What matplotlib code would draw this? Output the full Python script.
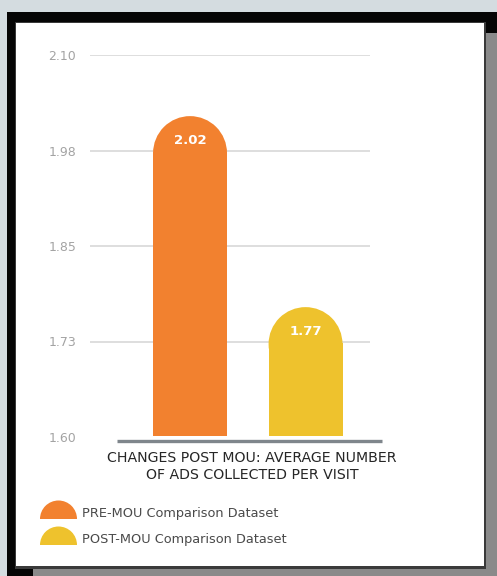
import matplotlib
matplotlib.use("Agg")
import matplotlib.pyplot as plt
import matplotlib.patches as mpatches
import matplotlib.transforms as mtransforms
import numpy as np

# ---- data ----
categories = ["PRE-MOU Comparison Dataset", "POST-MOU Comparison Dataset"]
values = [2.02, 1.77]
value_labels = ["2.02", "1.77"]
colors = ["#F2812F", "#EEC22D"]
tick_values = [1.60, 1.725, 1.85, 1.975, 2.10]
tick_labels = ["1.60", "1.73", "1.85", "1.98", "2.10"]
title_lines = ["CHANGES POST MOU: AVERAGE NUMBER", "OF ADS COLLECTED PER VISIT"]

W, H = 497, 576
fig = plt.figure(figsize=(W / 100, H / 100), dpi=100)
fig.patch.set_facecolor("#D4DCE0")

# background / frame axes in pixel units
bg = fig.add_axes([0, 0, 1, 1], zorder=0)
bg.set_xlim(0, W)
bg.set_ylim(H, 0)
bg.axis("off")
bg.add_patch(mpatches.Rectangle((7, 12), W - 7, H - 12, facecolor="#050505", edgecolor="none"))
bg.add_patch(mpatches.Rectangle((33, 33), W - 33, H - 33, facecolor="#8A8A8A", edgecolor="none"))
bg.add_patch(mpatches.Rectangle((14.5, 21.5), 471, 547, facecolor="#3A3A3A", edgecolor="none"))
bg.add_patch(mpatches.Rectangle((16, 23), 467.5, 543, facecolor="white", edgecolor="none"))

# title
for i, line in enumerate(title_lines):
    bg.text(252, 458 + 17 * i, line, ha="center", va="center", fontsize=10.2,
            color="#262626", family="DejaVu Sans")

# legend
leg_y = [519, 545]
for i, (cat, col) in enumerate(zip(categories, colors)):
    bg.add_patch(mpatches.Wedge((58.5, leg_y[i]), 18.5, 180, 360, facecolor=col, edgecolor="none"))
    bg.text(82, leg_y[i] - 5, cat, ha="left", va="center", fontsize=9.3,
            color="#4A4A4A", family="DejaVu Sans")

# chart axes
y0, y1 = 1.60, 2.10
left_px, right_px = 90, 370
bottom_px, top_px = 437, 55
ax = fig.add_axes([left_px / W, (H - bottom_px) / H, (right_px - left_px) / W,
                   (bottom_px - top_px) / H], zorder=1)
ax.patch.set_alpha(0)
ax.set_ylim(y0, y1)
xpos = np.arange(len(values))
ax.set_xlim(-0.866, 1.558)
for s in ax.spines.values():
    s.set_visible(False)
ax.set_xticks([])
ax.set_yticks(tick_values)
ax.set_yticklabels(tick_labels)
ax.tick_params(axis="y", length=0, pad=10, labelsize=9, labelcolor="#A3A3A3")
for t in tick_values[1:]:
    ax.axhline(t, color="#D8D8D8", lw=1.2, zorder=0)

bar_w = 0.64
fig.canvas.draw()
# convert bar width (data) to pixels, then to data-y radius
px_per_x = ax.transData.transform((1, 0))[0] - ax.transData.transform((0, 0))[0]
px_per_y = ax.transData.transform((0, 1))[1] - ax.transData.transform((0, 0))[1]
r_px = bar_w * px_per_x / 2
r_y = r_px / px_per_y
for x, v, col, lab in zip(xpos, values, colors, value_labels):
    ax.add_patch(mpatches.Rectangle((x - bar_w / 2, y0 + 1.5 / px_per_y), bar_w,
                                    v - r_y - y0, facecolor=col, edgecolor="none", zorder=2))
    ax.add_patch(mpatches.Ellipse((x, v - r_y), bar_w, 2 * r_y, facecolor=col,
                                  edgecolor="none", zorder=2))
    ax.text(x, v - 24 / px_per_y, lab, ha="center", va="center", color="white",
            fontsize=9.5, fontweight="bold", zorder=3)

# baseline
trans = mtransforms.blended_transform_factory(ax.transAxes, ax.transData)
ax.plot([0.0964, 1.043], [y0 - 4 / px_per_y] * 2, transform=trans, color="#7F868C",
        lw=2.4, clip_on=False, solid_capstyle="butt", zorder=3)

fig.savefig("out.png", dpi=100, facecolor=fig.get_facecolor())
